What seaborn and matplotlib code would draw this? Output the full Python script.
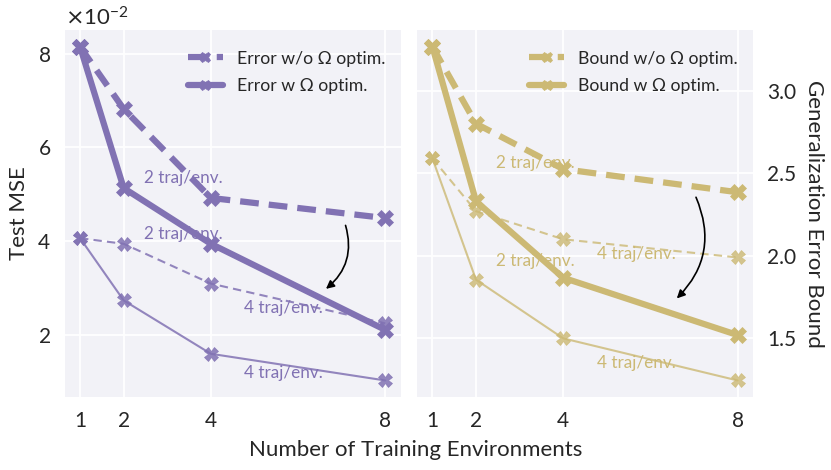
import numpy as np
import pandas as pd
import matplotlib
matplotlib.use("Agg")
import matplotlib.pyplot as plt
import seaborn as sns

# ---- data ----
envs = [1, 2, 4, 8]
# Test MSE (left panel)
err_wo_2traj = [0.0815, 0.0682, 0.0492, 0.0449]
err_w_2traj = [0.0815, 0.0513, 0.0394, 0.0210]
err_wo_4traj = [0.0406, 0.0394, 0.0309, 0.0224]
err_w_4traj = [0.0406, 0.0273, 0.0159, 0.0102]
# Generalization error bound (right panel)
bnd_wo_2traj = [3.266, 2.800, 2.525, 2.385]
bnd_w_2traj = [3.266, 2.330, 1.867, 1.520]
bnd_wo_4traj = [2.590, 2.270, 2.100, 1.990]
bnd_w_4traj = [2.590, 1.855, 1.500, 1.245]

purple = "#8172B3"
gold = "#CCB974"

sns.set_theme(style="darkgrid", rc={"axes.facecolor": "#F2F2F7",
                                    "grid.color": "white",
                                    "grid.linewidth": 1.3})
plt.rcParams["font.family"] = ["Lato", "DejaVu Sans"]
plt.rcParams["mathtext.fontset"] = "dejavusans"

fig = plt.figure(figsize=(8.31, 4.70), dpi=100)
ax1 = fig.add_axes([0.078, 0.155, 0.404, 0.781])
ax2 = fig.add_axes([0.502, 0.155, 0.404, 0.781])


def draw(ax, y, color, ls, lw, ms, alpha, label=None):
    sns.lineplot(x=envs, y=y, ax=ax, color=color, linestyle=ls, lw=lw,
                 marker="X", markersize=ms, markeredgecolor=color,
                 markeredgewidth=0.5, alpha=alpha, label=label,
                 legend=False)


draw(ax1, err_wo_2traj, purple, (0, (3, 1.6)), 4.5, 11, 1.0, "Error w/o Ω optim.")
draw(ax1, err_w_2traj, purple, "-", 4.5, 11, 1.0, "Error w Ω optim.")
draw(ax1, err_wo_4traj, purple, (0, (4, 2.5)), 1.5, 10, 0.85)
draw(ax1, err_w_4traj, purple, "-", 1.5, 10, 0.85)

draw(ax2, bnd_wo_2traj, gold, (0, (3, 1.6)), 4.5, 11, 1.0, "Bound w/o Ω optim.")
draw(ax2, bnd_w_2traj, gold, "-", 4.5, 11, 1.0, "Bound w Ω optim.")
draw(ax2, bnd_wo_4traj, gold, (0, (4, 2.5)), 1.5, 10, 0.8)
draw(ax2, bnd_w_4traj, gold, "-", 1.5, 10, 0.8)

for ax in (ax1, ax2):
    ax.set_xticks(envs)
    ax.set_xticklabels([str(e) for e in envs])
    ax.tick_params(labelsize=15, length=0, pad=10)
    ax.set_xlabel("")
    for s in ax.spines.values():
        s.set_visible(False)

ax1.set_yticks([0.02, 0.04, 0.06, 0.08])
ax1.ticklabel_format(axis="y", style="sci", scilimits=(0, 0), useMathText=True)
ax1.yaxis.get_offset_text().set_fontsize(16)
ax1.set_ylabel("Test MSE", fontsize=16, labelpad=6)

ax2.set_yticks([1.5, 2.0, 2.5, 3.0])
ax2.yaxis.tick_right()
ax2.yaxis.set_label_position("right")
ax2.set_ylabel("Generalization Error Bound", fontsize=16, rotation=270,
               labelpad=20)

ann = dict(fontsize=12.3)
ax1.text(2.47, 0.0535, "2 traj/env.", color=purple, va="center", **ann)
ax1.text(2.47, 0.0415, "2 traj/env.", color=purple, va="center", **ann)
ax1.text(4.77, 0.0256, "4 traj/env.", color=purple, va="center", **ann)
ax1.text(4.77, 0.0117, "4 traj/env.", color=purple, va="center", **ann)

ax2.text(2.45, 2.56, "2 traj/env.", color=gold, va="center", **ann)
ax2.text(2.45, 1.97, "2 traj/env.", color=gold, va="center", **ann)
ax2.text(4.77, 2.01, "4 traj/env.", color=gold, va="center", **ann)
ax2.text(4.77, 1.35, "4 traj/env.", color=gold, va="center", **ann)

arrow = dict(arrowstyle="-|>", color="black", lw=1.2,
             connectionstyle="arc3,rad=-0.35", mutation_scale=12)
ax1.annotate("", xy=(6.59, 0.0294), xytext=(7.07, 0.0439), arrowprops=arrow)
ax2.annotate("", xy=(6.56, 1.73), xytext=(7.02, 2.37), arrowprops=arrow)

for ax in (ax1, ax2):
    ax.legend(loc="upper right", bbox_to_anchor=(1.0, 0.985), frameon=False,
              fontsize=12.7, handlelength=2.0, borderaxespad=0.45,
              labelspacing=0.65, markerscale=0.7)

fig.text(0.5, 0.043, "Number of Training Environments", ha="center",
         va="center", fontsize=16)

fig.savefig("out.png", dpi=100)
